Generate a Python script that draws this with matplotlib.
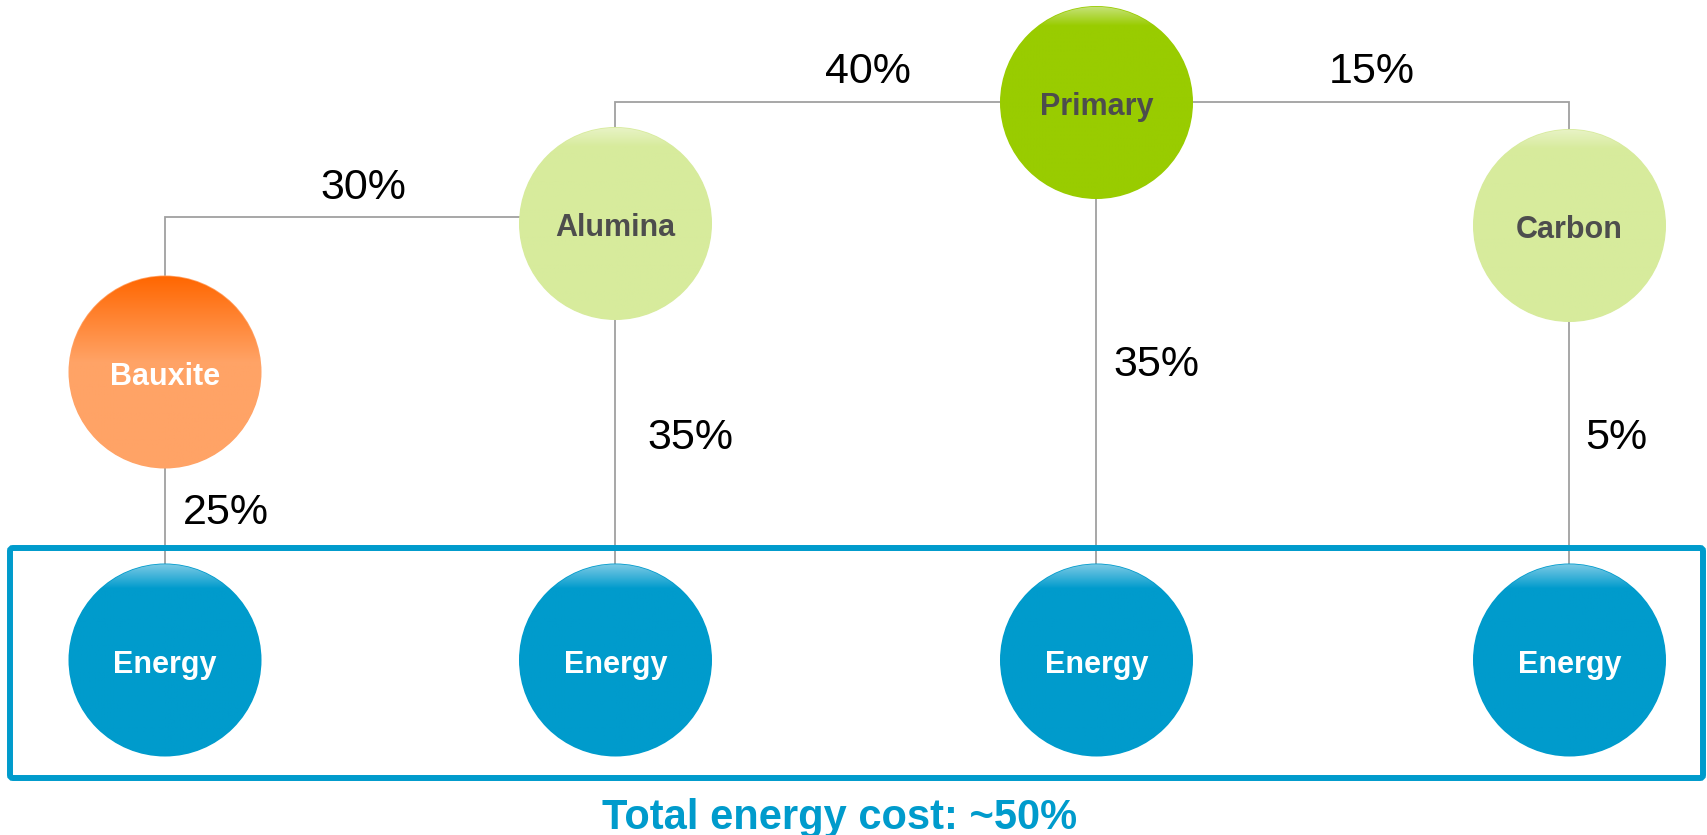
import numpy as np
import matplotlib
matplotlib.use("Agg")
import matplotlib.pyplot as plt
from matplotlib.patches import Circle, FancyBboxPatch
from matplotlib.colors import to_rgb

# --- values ---------------------------------------------------------------
stages = ["Bauxite", "Alumina", "Primary", "Carbon"]
energy_share = [25, 35, 35, 5]          # energy share of each stage's cost (%)
links = [("Bauxite", "Alumina"), ("Alumina", "Primary"), ("Carbon", "Primary")]
link_share = [30, 40, 15]               # share of input cost passed up the chain (%)
energy_label = "Energy"
total_energy = 50                       # overall energy share (%)

# --- layout (pixel units, y downwards) -------------------------------------
W, H = 1708, 835
R = 96.5
node_xy = {"Bauxite": (165, 372), "Alumina": (615.5, 223.5),
           "Primary": (1096.5, 102.5), "Carbon": (1569.5, 225.5)}
energy_y = 660
link_y = {("Bauxite", "Alumina"): 217, ("Alumina", "Primary"): 102,
          ("Carbon", "Primary"): 102}
link_label_xy = [(363, 199), (868, 83), (1372, 83)]
energy_label_xy = [(226, 524), (690, 449), (1156, 376), (1616, 449)]

style = {
    "Bauxite": dict(base="#FFA366", top="#FF6600", frac=0.45, text="white"),
    "Alumina": dict(base="#D7EB9C", top="#E8F3C6", frac=0.10, text="#4D4D4D"),
    "Primary": dict(base="#99CC00", top="#C6E27A", frac=0.10, text="#4D4D4D"),
    "Carbon":  dict(base="#D7EB9C", top="#E8F3C6", frac=0.10, text="#4D4D4D"),
}
energy_style = dict(base="#009BCC", top="#80CBE6", frac=0.13, text="white")
blue = "#009BCC"
line_grey = "#A0A0A0"

plt.rcParams["font.family"] = ["Liberation Sans", "DejaVu Sans"]

fig = plt.figure(figsize=(W / 100, H / 100), dpi=100)
ax = fig.add_axes([0, 0, 1, 1])
ax.set_xlim(0, W)
ax.set_ylim(H, 0)
ax.axis("off")


def gradient_circle(cx, cy, st, label):
    # solid antialiased disc underneath, gradient image clipped on top
    ax.add_patch(Circle((cx, cy), R, facecolor=st["base"], edgecolor="none",
                        zorder=3))
    n = 200
    t = np.linspace(0, 1, n)
    w = np.clip(t / st["frac"], 0, 1)[:, None]
    top = np.array(to_rgb(st["top"]))
    base = np.array(to_rgb(st["base"]))
    grad = (top * (1 - w) + base * w)[:, None, :]
    clip = Circle((cx, cy), R - 0.8, transform=ax.transData)
    im = ax.imshow(grad, extent=(cx - R, cx + R, cy + R, cy - R),
                   aspect="auto", interpolation="bilinear", zorder=4)
    im.set_clip_path(clip)
    ax.text(cx, cy + 13, label, ha="center", va="baseline", fontsize=22,
            fontweight="bold", color=st["text"], zorder=5)


# connectors between stages
for (a, b), y in zip(links, link_y.values()):
    ax_, ay = node_xy[a]
    bx, by = node_xy[b]
    ax.plot([ax_, ax_, bx], [ay, y, y], color=line_grey, lw=1.3, zorder=1,
            solid_joinstyle="miter")

# connectors down to the energy nodes
for s in stages:
    x, y = node_xy[s]
    ax.plot([x, x], [y, energy_y], color=line_grey, lw=1.3, zorder=1)

# link percentages
for v, (x, y) in zip(link_share, link_label_xy):
    ax.text(x, y, f"{v}%", ha="center", va="baseline", fontsize=31,
            color="black", zorder=5)

for v, (x, y) in zip(energy_share, energy_label_xy):
    ax.text(x, y, f"{v}%", ha="center", va="baseline", fontsize=31,
            color="black", zorder=5)

# energy group frame
ax.add_patch(FancyBboxPatch((10, 548), 1693, 230,
                            boxstyle="round,pad=0,rounding_size=3",
                            facecolor="none", edgecolor=blue, lw=4.3, zorder=2))

# nodes
for s in stages:
    x, y = node_xy[s]
    gradient_circle(x, y, style[s], s)
    gradient_circle(x, energy_y, energy_style, energy_label)

ax.text(840, 829, f"Total energy cost: ~{total_energy}%", ha="center",
        va="baseline", fontsize=30, fontweight="bold", color=blue, zorder=5)

fig.savefig("out.png", dpi=100)
